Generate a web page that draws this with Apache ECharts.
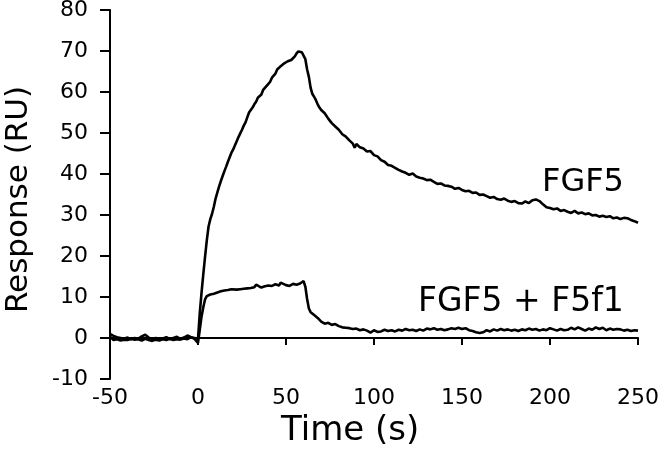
<!DOCTYPE html>
<html>
<head>
<meta charset="utf-8">
<script src="https://cdn.jsdelivr.net/npm/echarts@6/dist/echarts.min.js"></script>
<style>
html,body{margin:0;padding:0;background:#fff;}
#chart{width:660px;height:451px;}
</style>
</head>
<body>
<div id="chart"></div>
<script>
// Time points (s) and responses (RU)
var timeFGF5 = [-50,-48,-46,-44,-42,-40,-38,-36,-34,-32,-30,-28,-26,-24,-22,-20,-18,-16,-14,-12,-10,-8,-6,-4,-2,0,
  1,2,3,4,5,6,7,8,9,10,11,12,13,14,15,16,17,18,19,20,21,22,23,24,25,26,27,28,29,30,31,32,33,34,35,36,37,38,39,40,
  41,42,43,44,45,46,47,48,49,50,51,52,53,54,55,56,57,58,59,60,61,62,63,64,65,66,67,68,69,70,72,74,76,78,80,82,84,86,88,89,90,
  92,94,96,98,100,102,104,106,108,110,112,114,116,118,120,122,124,126,128,130,132,134,136,138,140,142,144,146,148,150,
  152,154,156,158,160,162,164,166,168,170,172,174,176,178,180,182,184,186,188,190,192,194,196,198,200,202,204,206,208,210,
  212,214,216,218,220,222,224,226,228,230,232,234,236,238,240,242,244,246,248,250];
var respFGF5 = [1.0,0.5,0.2,0.0,-0.2,0.1,-0.3,0.0,-0.2,0.4,0.8,0.1,-0.3,0.0,-0.4,-0.1,0.2,-0.3,0.0,0.3,-0.2,0.1,0.6,0.2,0.0,-0.2,
  6,11,15.5,19.8,23.8,27.2,29,30.3,32,34,35.5,37,38.3,39.5,40.7,41.8,43,44.1,45.2,46,47,48,49,49.9,50.8,51.8,52.6,53.8,55,55.6,56.2,57,57.6,58.6,59,59.4,60.5,61,61.2,62,
  62.5,63.5,64,64.5,65.5,65.8,66.3,66.6,67,67.3,67.5,67.6,67.8,68.2,68.7,69.4,69.9,69.9,69.7,69.8,68,65.5,63.7,61,59.5,58.8,58,57,56.2,55.6,54.8,53.5,52.4,51.6,50.8,49.7,49.1,48.2,47.4,46.4,47.3,
  46.5,46.2,45.5,45.6,44.6,44.3,43.4,43.0,42.2,42.0,41.5,41.0,40.6,40.3,39.8,40.1,39.4,39.1,38.9,38.5,38.6,38.1,37.6,37.7,37.2,37.1,36.9,36.4,36.6,36.1,
  35.8,35.9,35.4,35.5,34.9,35.0,34.6,34.2,34.4,33.9,33.7,34.0,33.5,33.2,33.4,32.9,32.8,33.3,32.9,33.6,33.8,33.4,32.6,31.9,31.7,31.4,31.6,31.0,31.2,30.8,
  30.5,31.0,30.4,30.6,30.2,30.4,29.9,30.0,29.6,29.8,29.5,29.7,29.2,29.4,29.0,29.3,29.2,28.8,28.5,28.1];

var timeF5f1 = [-50,-48,-46,-44,-42,-40,-38,-36,-34,-32,-30,-28,-26,-24,-22,-20,-18,-16,-14,-12,-10,-8,-6,-4,-2,0,
  1,2,3,4,5,6,7,8,9,10,11,12,13,14,15,16,17,18,19,20,22,24,26,28,30,32,33,34,36,38,40,42,44,46,47,48,50,52,54,56,58,60,
  61,62,63,64,66,68,70,72,74,76,78,80,82,84,86,88,90,92,94,96,98,100,102,104,106,108,110,112,114,116,118,120,122,124,126,128,130,
  132,134,136,138,140,142,144,146,148,150,152,154,156,158,160,162,164,166,168,170,172,174,176,178,180,182,184,186,188,190,
  192,194,196,198,200,202,204,206,208,210,212,214,216,218,220,222,224,226,228,230,232,234,236,238,240,242,244,246,248,250];
var respF5f1 = [0.3,-0.5,-0.3,-0.6,-0.4,-0.5,-0.2,-0.4,-0.3,-0.6,-0.2,-0.5,-0.7,-0.4,-0.6,-0.3,-0.5,-0.2,-0.5,-0.3,-0.4,-0.1,-0.3,0.2,-0.2,-1.2,
  2,5.2,7.5,9.4,10.2,10.3,10.6,10.4,10.8,10.7,11.1,10.9,11.4,11.2,11.6,11.3,11.7,11.6,11.9,11.7,11.8,11.9,12.0,12.1,12.2,12.4,13.0,12.6,12.3,12.6,12.8,12.7,13.1,12.8,13.5,13.3,12.9,12.7,13.2,13.0,13.3,13.9,
  12.5,9.5,7.2,6.3,5.6,4.9,4.0,3.5,3.7,3.2,3.4,2.9,2.6,2.5,2.4,2.2,2.3,1.9,2.1,1.8,1.3,1.9,1.5,1.6,2.0,1.7,1.9,1.6,2.0,1.8,2.2,1.9,2.0,1.7,2.1,1.8,2.3,
  2.1,2.4,2.0,2.2,1.9,2.1,2.4,2.2,2.5,2.2,2.4,1.9,1.7,1.4,1.2,1.4,1.9,1.6,2.1,1.8,2.2,1.9,2.1,1.8,2.0,1.7,2.1,1.9,2.3,2.0,
  2.2,1.8,2.1,1.9,2.4,2.1,1.8,2.2,1.9,2.0,2.5,2.1,2.6,2.2,1.8,2.3,2.0,2.6,2.2,2.5,1.9,2.3,2.0,2.2,2.1,1.8,2.0,1.7,1.9,1.8];

var xTicks = [-50, 0, 50, 100, 150, 200, 250];
var yTicks = [-10, 0, 10, 20, 30, 40, 50, 60, 70, 80];
var seriesNames = ['FGF5', 'FGF5 + F5f1'];
var xTitle = 'Time (s)';
var yTitle = 'Response (RU)';

function pairs(t, v) { return t.map(function (x, i) { return [x, v[i]]; }); }

var FONT = '"DejaVu Sans", Verdana, sans-serif';
var chart = echarts.init(document.getElementById('chart'));
chart.setOption({
  animation: false,
  backgroundColor: '#fff',
  grid: { left: 110, right: 22, top: 10, bottom: 72, containLabel: false, outerBoundsMode: 'none' },
  xAxis: {
    type: 'value', min: xTicks[0], max: xTicks[xTicks.length - 1], interval: 50,
    splitLine: { show: false },
    axisLine: { onZero: true, lineStyle: { color: '#000', width: 2 } },
    axisTick: { show: true, inside: false, length: 7, lineStyle: { color: '#000', width: 2 } },
    axisLabel: { color: '#000', fontFamily: FONT, fontSize: 22, margin: 8 }
  },
  yAxis: {
    type: 'value', min: yTicks[0], max: yTicks[yTicks.length - 1], interval: 10,
    splitLine: { show: false },
    axisLine: { onZero: false, lineStyle: { color: '#000', width: 2 } },
    axisTick: { show: true, inside: false, length: 10, lineStyle: { color: '#000', width: 2 } },
    axisLabel: { color: '#000', fontFamily: FONT, fontSize: 22, margin: 22 },
    name: yTitle, nameLocation: 'middle', nameGap: 76,
    nameTextStyle: { color: '#000', fontFamily: FONT, fontSize: 31, padding: [0, 10, 0, 0] }
  },
  graphic: [
    { type: 'text', left: 281, top: 414, style: { text: xTitle, fill: '#000', font: '34px ' + FONT } },
    { type: 'text', left: 542, top: 167, style: { text: seriesNames[0], fill: '#000', font: '32px ' + FONT } },
    { type: 'text', left: 418, top: 286, style: { text: seriesNames[1], fill: '#000', font: '33px ' + FONT } }
  ],
  series: [
    { name: seriesNames[0], type: 'line', data: pairs(timeFGF5, respFGF5), showSymbol: false, symbol: 'none',
      lineStyle: { color: '#000', width: 2.6 }, z: 3 },
    { name: seriesNames[1], type: 'line', data: pairs(timeF5f1, respF5f1), showSymbol: false, symbol: 'none',
      lineStyle: { color: '#000', width: 2.6 }, z: 3 }
  ]
});
</script>
</body>
</html>
